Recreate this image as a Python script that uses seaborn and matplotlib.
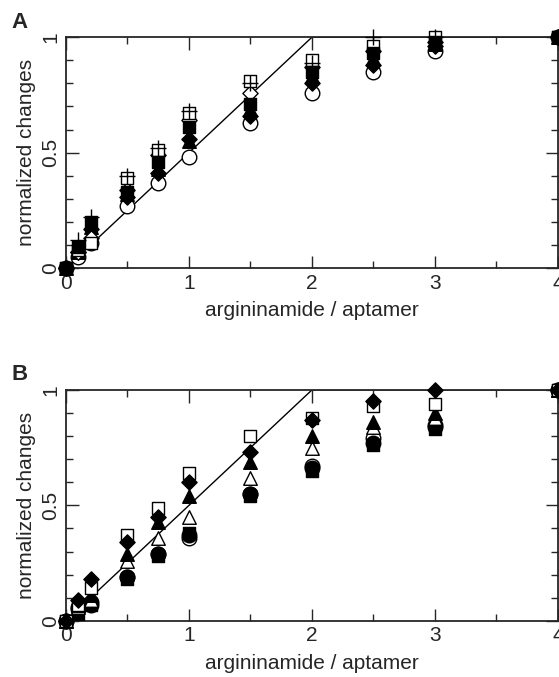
import numpy as np
import pandas as pd
import seaborn as sns
import matplotlib.pyplot as plt
from matplotlib.ticker import MultipleLocator

# titration points (argininamide / aptamer ratio)
ratio = [0, 0.1, 0.2, 0.5, 0.75, 1, 1.5, 2, 2.5, 3, 4]

# panel A, normalized changes
a_open_circle = [0, 0.05, 0.11, 0.27, 0.37, 0.48, 0.63, 0.76, 0.85, 0.94, 1]
a_fill_triangle = [0, 0.07, 0.18, 0.32, 0.43, 0.55, 0.69, 0.83, 0.91, 0.97, 1]
a_fill_diamond = [0, 0.07, 0.17, 0.31, 0.41, 0.56, 0.66, 0.80, 0.88, 0.96, 1]
a_fill_square = [0, 0.09, 0.20, 0.33, 0.46, 0.61, 0.71, 0.85, 0.93, 0.98, 1]
a_open_diamond = [0, 0.07, 0.13, 0.34, 0.49, 0.64, 0.76, 0.87, 0.94, 0.98, 1]
a_open_square = [0, 0.08, 0.11, 0.39, 0.51, 0.67, 0.81, 0.90, 0.96, 1.0, 1]
a_plus = [0, 0.12, 0.22, 0.40, 0.52, 0.68, 0.80, 0.89, 1.0, 1.0, 1]

# panel B, normalized changes
b_fill_circle = [0, 0.05, 0.07, 0.19, 0.29, 0.37, 0.55, 0.66, 0.77, 0.84, 1]
b_open_circle = [0, 0.06, 0.08, 0.19, 0.29, 0.36, 0.55, 0.67, 0.79, 0.85, 1]
b_fill_square = [0, 0.03, 0.07, 0.18, 0.28, 0.38, 0.54, 0.65, 0.76, 0.83, 1]
b_open_triangle = [0, 0.06, 0.09, 0.26, 0.36, 0.45, 0.62, 0.75, 0.84, 0.88, 1]
b_fill_triangle = [0, 0.07, 0.11, 0.29, 0.43, 0.54, 0.69, 0.80, 0.86, 0.90, 1]
b_open_square = [0, 0.07, 0.14, 0.37, 0.49, 0.64, 0.80, 0.88, 0.93, 0.94, 1]
b_fill_diamond = [0, 0.09, 0.18, 0.34, 0.45, 0.60, 0.73, 0.87, 0.95, 1.0, 1]

# theoretical 2:1 binding line
line_x = [0, 2, 4]
line_y = [0, 1, 1]

x_ticks = [0, 1, 2, 3, 4]
x_labels = ['0', '1', '2', '3', '4']
y_ticks = [0, 0.5, 1]
y_labels = ['0', '0.5', '1']

# (values, marker, filled)
series_a = [
    (a_open_circle, 'o', False),
    (a_fill_triangle, '^', True),
    (a_fill_diamond, 'D', True),
    (a_open_diamond, 'D', False),
    (a_open_square, 's', False),
    (a_fill_square, 's', True),
    (a_plus, '+', True),
]
series_b = [
    (b_open_circle, 'o', False),
    (b_fill_circle, 'o', True),
    (b_fill_square, 's', True),
    (b_open_triangle, '^', False),
    (b_fill_triangle, '^', True),
    (b_open_square, 's', False),
    (b_fill_diamond, 'D', True),
]

sns.set_style('ticks')
plt.rcParams['font.family'] = ['Liberation Sans', 'DejaVu Sans']

fig = plt.figure(figsize=(5.59, 6.77), dpi=100)
ax_a = fig.add_axes([0.118, 0.604, 0.880, 0.341])
ax_b = fig.add_axes([0.118, 0.083, 0.880, 0.341])


def draw_panel(ax, series, label):
    sns.lineplot(x=line_x, y=line_y, ax=ax, color='black', linewidth=1, zorder=2)
    for vals, marker, filled in series:
        df = pd.DataFrame({'ratio': ratio, 'change': vals})
        size = {'o': 110, 's': 80, '^': 95, 'D': 60, '+': 120}[marker]
        if marker == '+':
            sns.scatterplot(data=df, x='ratio', y='change', ax=ax, marker='+',
                            color='black', s=size, linewidth=1, clip_on=False, zorder=3)
        else:
            sns.scatterplot(data=df, x='ratio', y='change', ax=ax, marker=marker,
                            s=size, facecolor='black' if filled else 'white',
                            edgecolor='black', linewidth=1, clip_on=False, zorder=3)
    ax.set_xlim(0, 4)
    ax.set_ylim(0, 1)
    ax.set_xticks(x_ticks, x_labels)
    ax.xaxis.set_minor_locator(MultipleLocator(0.5))
    ax.set_yticks(y_ticks, y_labels, rotation=90, va='center')
    ax.yaxis.set_minor_locator(MultipleLocator(0.1))
    ax.tick_params(which='both', direction='in', top=True, right=True,
                   labelsize=15, width=1, pad=4)
    ax.tick_params(which='major', length=9)
    ax.tick_params(which='minor', length=5)
    for sp in ax.spines.values():
        sp.set_linewidth(1.3)
        sp.set_visible(True)
    ax.set_xlabel('argininamide / aptamer', fontsize=15, labelpad=6)
    ax.set_ylabel('normalized changes', fontsize=15, labelpad=4)
    ax.text(-0.11, 1.065, label, transform=ax.transAxes, fontsize=16,
            fontweight='bold', ha='left', va='center')


draw_panel(ax_a, series_a, 'A')
draw_panel(ax_b, series_b, 'B')

fig.savefig('out.png', dpi=100)
